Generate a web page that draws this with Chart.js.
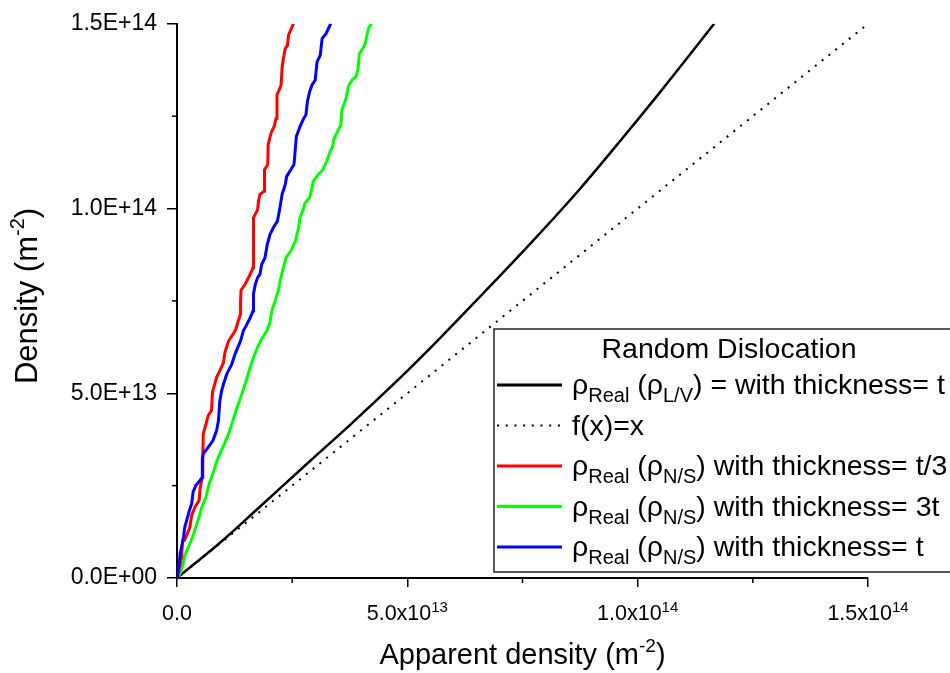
<!DOCTYPE html>
<html>
<head>
<meta charset="utf-8">
<title>Random Dislocation</title>
<script src="https://cdn.jsdelivr.net/npm/chart.js@4/dist/chart.umd.min.js"></script>
<style>
  body { margin: 0; background: #fff; }
  #wrap { width: 950px; height: 673px; }
</style>
</head>
<body>
<div id="wrap"><canvas id="chart" width="950" height="673"></canvas></div>
<script>
// all densities below are in units of 1e13 m^-2
const UNIT = 1e13;

// rho_Real (rho_L/V), thickness t
const blackX = [0, 0.94, 1.74, 2.90, 3.77, 4.78, 5.70, 6.59, 7.67, 8.76, 9.70, 10.57, 11.66];
const blackY = [0, 0.96, 1.86, 3.18, 4.16, 5.34, 6.48, 7.63, 9.05, 10.55, 11.95, 13.28, 15.00];

// f(x) = x reference line
const identX = [0, 15];
const identY = [0, 15];

// rho_Real (rho_N/S), thickness t/3
const redX = [0, 0.03, 0.10, 0.12, 0.17, 0.28, 0.32, 0.39, 0.48, 0.50, 0.55, 0.56, 0.57, 0.61, 0.68, 0.75, 0.77, 0.80, 0.86, 0.93,
  1.01, 1.04, 1.12, 1.24, 1.28, 1.33, 1.38, 1.38, 1.39, 1.48, 1.59, 1.65, 1.66, 1.75, 1.77, 1.80, 1.89, 1.90, 1.97, 1.98,
  2.04, 2.11, 2.15, 2.17, 2.20, 2.26, 2.28, 2.31, 2.35, 2.40, 2.42, 2.53];
const redY = [0, 0.13, 0.57, 0.98, 1.03, 1.38, 1.70, 1.92, 2.10, 2.42, 2.73, 3.27, 3.90, 4.08, 4.40, 4.53, 5.03, 5.16, 5.43, 5.61,
  5.83, 6.10, 6.42, 6.64, 6.74, 6.96, 7.14, 7.50, 7.79, 7.95, 8.22, 8.40, 9.75, 9.97, 10.20, 10.38, 10.47, 11.05, 11.19, 11.73,
  12.04, 12.22, 12.44, 13.08, 13.16, 13.34, 13.79, 14.06, 14.33, 14.42, 14.69, 15.01];

// rho_Real (rho_N/S), thickness 3t
const greenX = [0, 0.07, 0.14, 0.17, 0.25, 0.34, 0.41, 0.48, 0.54, 0.63, 0.70, 0.78, 0.86, 0.93, 1.03, 1.12, 1.19, 1.26, 1.33, 1.41,
  1.50, 1.59, 1.66, 1.75, 1.84, 1.95, 2.01, 2.06, 2.13, 2.20, 2.24, 2.31, 2.37, 2.47, 2.57, 2.64, 2.67, 2.73, 2.78, 2.88,
  2.93, 2.96, 3.07, 3.17, 3.25, 3.33, 3.38, 3.40, 3.47, 3.56, 3.58, 3.67, 3.72, 3.80, 3.89, 3.93, 3.96, 4.02, 4.09, 4.12,
  4.16, 4.22];
const greenY = [0, 0.13, 0.40, 0.62, 0.84, 1.11, 1.38, 1.65, 1.92, 2.19, 2.55, 2.82, 3.14, 3.36, 3.63, 3.90, 4.17, 4.44, 4.71, 4.98,
  5.34, 5.70, 5.97, 6.24, 6.47, 6.69, 6.87, 7.23, 7.50, 7.77, 8.04, 8.40, 8.67, 8.85, 9.12, 9.48, 9.75, 9.93, 10.15, 10.29,
  10.56, 10.74, 10.92, 11.05, 11.28, 11.55, 11.68, 11.86, 12.04, 12.27, 12.67, 12.98, 13.30, 13.48, 13.57, 13.79, 14.20, 14.29, 14.47, 14.69,
  14.88, 15.01];

// rho_Real (rho_N/S), thickness t
const blueX = [0, 0.05, 0.07, 0.10, 0.14, 0.17, 0.21, 0.27, 0.32, 0.35, 0.41, 0.50, 0.55, 0.55, 0.57, 0.68, 0.78, 0.86, 0.90, 0.93,
  0.97, 1.01, 1.08, 1.19, 1.26, 1.38, 1.44, 1.52, 1.59, 1.65, 1.66, 1.70, 1.75, 1.80, 1.84, 1.91, 1.96, 2.02, 2.09, 2.18,
  2.24, 2.28, 2.35, 2.38, 2.47, 2.54, 2.57, 2.59, 2.67, 2.75, 2.80, 2.83, 2.88, 2.93, 3.00, 3.04, 3.11, 3.15, 3.24, 3.29,
  3.34];
const blueY = [0, 0.40, 0.67, 0.84, 1.11, 1.38, 1.56, 1.83, 2.02, 2.33, 2.51, 2.64, 2.73, 3.23, 3.36, 3.54, 3.72, 3.99, 4.26, 4.80,
  5.07, 5.25, 5.52, 5.79, 6.06, 6.42, 6.69, 6.87, 7.05, 7.23, 7.68, 7.95, 8.13, 8.22, 8.49, 8.67, 9.03, 9.30, 9.48, 9.66,
  10.06, 10.38, 10.65, 10.87, 11.05, 11.19, 11.63, 11.95, 12.22, 12.44, 12.54, 12.89, 13.16, 13.34, 13.48, 13.97, 14.15, 14.60, 14.74, 14.88,
  15.01];

// axis ticks
const yTickLabels = ['0.0E+00', '5.0E+13', '1.0E+14', '1.5E+14'];
const xTickValues = [0, 5, 10, 15];
const xTickMantissa = ['0.0', '5.0x10', '1.0x10', '1.5x10'];
const xTickExponent = ['', '13', '14', '14'];
const minorTicks = [2.5, 7.5, 12.5];

const legendTitle = 'Random Dislocation';

const FONT = "'Liberation Sans', Arial, sans-serif";
const font = size => size + 'px ' + FONT;

const toPoints = (xs, ys) => xs.map((x, i) => ({ x: x * UNIT, y: ys[i] * UNIT }));

// text pieces for legend/axis titles: main text and subscript
const main = t => ({ text: t, size: 28.5, dy: 0 });
const sub = t => ({ text: t, size: 20, dy: 8 });

function drawRuns(ctx, runs, x, y, align) {
  let total = 0;
  runs.forEach(r => {
    ctx.font = font(r.size);
    r.w = ctx.measureText(r.text).width;
    total += r.w;
  });
  let cx = align === 'center' ? x - total / 2 : x;
  runs.forEach(r => {
    ctx.font = font(r.size);
    ctx.fillText(r.text, cx, y + r.dy);
    cx += r.w;
  });
}

const datasets = [
  { key: 'black', label: [main('ρ'), sub('Real'), main(' (ρ'), sub('L/V'), main(') = with thickness= t')],
    data: toPoints(blackX, blackY), borderColor: '#000', borderWidth: 2.5, smooth: true },
  { key: 'ident', label: [main('f(x)=x')],
    data: toPoints(identX, identY), borderColor: '#000', borderWidth: 2, borderDash: [2, 6.7] },
  { key: 'red', label: [main('ρ'), sub('Real'), main(' (ρ'), sub('N/S'), main(') with thickness= t/3')],
    data: toPoints(redX, redY), borderColor: '#ff0000', borderWidth: 3 },
  { key: 'green', label: [main('ρ'), sub('Real'), main(' (ρ'), sub('N/S'), main(') with thickness= 3t')],
    data: toPoints(greenX, greenY), borderColor: '#00ff00', borderWidth: 3 },
  { key: 'blue', label: [main('ρ'), sub('Real'), main(' (ρ'), sub('N/S'), main(') with thickness= t')],
    data: toPoints(blueX, blueY), borderColor: '#0000ff', borderWidth: 3 },
];

// draw order: blue on top, then red, green, black
const drawOrder = { blue: 0, red: 1, green: 2, black: 3, ident: 4 };

const decorations = {
  id: 'decorations',
  beforeDraw(chart) {
    const ctx = chart.ctx;
    ctx.save();
    ctx.fillStyle = '#fff';
    ctx.fillRect(0, 0, chart.width, chart.height);
    ctx.restore();
  },
  afterDraw(chart) {
    const { ctx, scales: { x, y }, chartArea } = chart;
    ctx.save();

    // minor ticks
    ctx.strokeStyle = '#000';
    ctx.lineWidth = 1.5;
    minorTicks.forEach(v => {
      const py = y.getPixelForValue(v * UNIT);
      ctx.beginPath();
      ctx.moveTo(chartArea.left - 5, py);
      ctx.lineTo(chartArea.left, py);
      ctx.stroke();
      const px = x.getPixelForValue(v * UNIT);
      ctx.beginPath();
      ctx.moveTo(px, chartArea.bottom);
      ctx.lineTo(px, chartArea.bottom + 5);
      ctx.stroke();
    });

    // x tick labels with power-of-ten exponent
    ctx.fillStyle = '#000';
    ctx.textBaseline = 'alphabetic';
    ctx.textAlign = 'left';
    xTickValues.forEach((v, i) => {
      const px = x.getPixelForValue(v * UNIT);
      const runs = [{ text: xTickMantissa[i], size: 21.5, dy: 0 }];
      if (xTickExponent[i]) runs.push({ text: xTickExponent[i], size: 15, dy: -8 });
      drawRuns(ctx, runs, px, 620, 'center');
    });

    // axis titles
    drawRuns(ctx, [
      { text: 'Apparent density (m', size: 29, dy: 0 },
      { text: '-2', size: 19, dy: -12 },
      { text: ')', size: 29, dy: 0 },
    ], (chartArea.left + chartArea.right) / 2, 664, 'center');

    ctx.save();
    ctx.translate(37, 296);
    ctx.rotate(-Math.PI / 2);
    drawRuns(ctx, [
      { text: 'Density (m', size: 31, dy: 0 },
      { text: '-2', size: 20, dy: -13 },
      { text: ')', size: 31, dy: 0 },
    ], 0, 0, 'center');
    ctx.restore();

    // legend box
    const box = { left: 494, top: 329, bottom: 572 };
    ctx.fillStyle = '#fff';
    ctx.fillRect(box.left, box.top, chart.width - box.left + 10, box.bottom - box.top);
    ctx.strokeStyle = '#222';
    ctx.lineWidth = 1.5;
    ctx.strokeRect(box.left, box.top, chart.width - box.left + 10, box.bottom - box.top);

    ctx.fillStyle = '#000';
    ctx.font = font(28.5);
    ctx.textAlign = 'center';
    ctx.fillText(legendTitle, 729, 358);
    ctx.textAlign = 'left';

    chart.data.datasets.forEach((ds, i) => {
      const base = 394 + i * 40.5;
      const ly = base - 9;
      ctx.save();
      ctx.strokeStyle = ds.borderColor;
      ctx.lineWidth = ds.key === 'ident' ? 2 : 3;
      ctx.setLineDash(ds.borderDash || []);
      ctx.beginPath();
      ctx.moveTo(497, ly);
      ctx.lineTo(562, ly);
      ctx.stroke();
      ctx.restore();
      ctx.fillStyle = '#000';
      drawRuns(ctx, ds.label, 572, base, 'left');
    });

    ctx.restore();
  }
};

new Chart(document.getElementById('chart'), {
  type: 'line',
  data: {
    datasets: datasets.map(d => ({
      key: d.key,
      label: d.label,
      data: d.data,
      borderColor: d.borderColor,
      borderWidth: d.borderWidth,
      borderDash: d.borderDash || [],
      pointRadius: 0,
      tension: 0,
      cubicInterpolationMode: d.smooth ? 'monotone' : 'default',
      fill: false,
      clip: 0,
      order: drawOrder[d.key],
    })),
  },
  options: {
    responsive: false,
    animation: false,
    events: [],
    layout: { padding: { top: 22, right: 82, left: 0, bottom: 0 } },
    plugins: { legend: { display: false }, tooltip: { enabled: false } },
    scales: {
      x: {
        type: 'linear',
        min: 0,
        max: 15 * UNIT,
        border: { display: true, color: '#000', width: 2 },
        grid: { drawOnChartArea: false, drawTicks: true, tickLength: 9, color: '#000', lineWidth: 1.5 },
        ticks: { stepSize: 5 * UNIT, callback: () => '', maxRotation: 0 },
        afterFit: scale => { scale.height = 95; },
      },
      y: {
        type: 'linear',
        min: 0,
        max: 15 * UNIT,
        border: { display: true, color: '#000', width: 2 },
        grid: { drawOnChartArea: false, drawTicks: true, tickLength: 10, color: '#000', lineWidth: 1.5 },
        ticks: {
          stepSize: 5 * UNIT,
          padding: 10,
          color: '#000',
          font: { family: FONT, size: 23 },
          callback: (v, i) => yTickLabels[i],
        },
        afterFit: scale => { scale.width = 177; },
      },
    },
  },
  plugins: [decorations],
});
</script>
</body>
</html>
